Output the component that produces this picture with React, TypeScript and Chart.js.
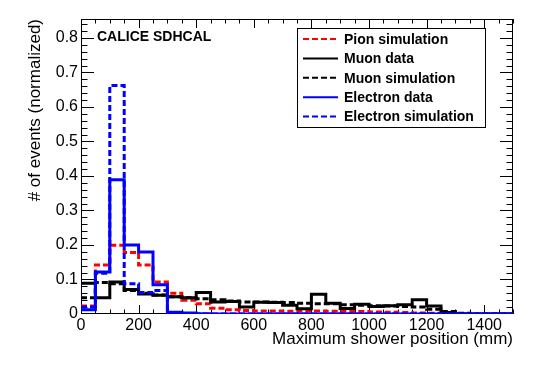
import React, { useEffect, useRef } from "react";
import { Chart, registerables } from "chart.js";

Chart.register(...registerables);

// Bin lower edges (mm), bin width 50 mm; last edge closes the histogram
const binEdges = [
  0, 50, 100, 150, 200, 250, 300, 350, 400, 450, 500, 550, 600, 650, 700,
  750, 800, 850, 900, 950, 1000, 1050, 1100, 1150, 1200, 1250, 1300, 1350, 1400, 1450, 1500,
];

const pionSim = [
  0.023, 0.142, 0.199, 0.178, 0.142, 0.093, 0.06, 0.04, 0.03, 0.017, 0.012, 0.01,
  0.009, 0.009, 0.008, 0.008, 0.009, 0.008, 0.007, 0.007, 0.006, 0.005, 0.004,
  0.003, 0.002, 0.001, 0, 0, 0, 0,
];
const muonData = [
  0.089, 0.047, 0.093, 0.071, 0.058, 0.054, 0.05, 0.047, 0.062, 0.035, 0.036, 0.02,
  0.034, 0.033, 0.025, 0.015, 0.057, 0.031, 0.016, 0.028, 0.022, 0.024, 0.027,
  0.041, 0.023, 0.004, 0, 0, 0, 0,
];
const muonSim = [
  0.047, 0.091, 0.088, 0.068, 0.06, 0.055, 0.05, 0.047, 0.044, 0.041, 0.038, 0.035,
  0.035, 0.034, 0.033, 0.031, 0.03, 0.03, 0.027, 0.025, 0.024, 0.023, 0.022,
  0.02, 0.014, 0.007, 0.002, 0, 0, 0,
];
const electronData = [
  0.012, 0.122, 0.389, 0.2, 0.18, 0.085, 0.005, 0.003, 0.001, 0, 0, 0, 0, 0, 0,
  0, 0, 0, 0, 0, 0, 0, 0, 0, 0, 0, 0, 0, 0, 0,
];
const electronSim = [
  0.02, 0.118, 0.662, 0.088, 0.062, 0.068, 0.003, 0, 0, 0, 0, 0, 0, 0, 0,
  0, 0, 0, 0, 0, 0, 0, 0, 0, 0, 0, 0, 0, 0, 0,
];

const seriesLabels = [
  "Pion simulation",
  "Muon data",
  "Muon simulation",
  "Electron data",
  "Electron simulation",
];
const xTickLabels = ["0", "200", "400", "600", "800", "1000", "1200", "1400"];
const yTickLabels = ["0", "0.1", "0.2", "0.3", "0.4", "0.5", "0.6", "0.7", "0.8"];

const FONT = "'Liberation Sans', Arial, Helvetica, sans-serif";
const DASH = [6, 3];

function toSteps(values: number[]) {
  const pts = values.map((v, i) => ({ x: binEdges[i], y: v }));
  pts.push({ x: binEdges[values.length], y: values[values.length - 1] });
  return pts;
}

const rootFrame = {
  id: "rootFrame",
  beforeDatasetsDraw(chart: any) {
    const { ctx, chartArea: a, scales } = chart;
    const xs = scales.x;
    const ys = scales.y;
    ctx.save();
    ctx.strokeStyle = "#000";
    ctx.lineWidth = 1;
    ctx.strokeRect(a.left + 0.5, a.top + 0.5, a.right - a.left - 1, a.bottom - a.top - 1);
    ctx.beginPath();
    // y ticks: major every 0.1, minor every 0.02
    for (let i = 0; i <= 42; i++) {
      const py = Math.round(ys.getPixelForValue(i * 0.02)) + 0.5;
      if (py < a.top || py > a.bottom) continue;
      const len = i % 5 === 0 ? 13 : 6.5;
      ctx.moveTo(a.left, py);
      ctx.lineTo(a.left + len, py);
      ctx.moveTo(a.right, py);
      ctx.lineTo(a.right - len, py);
    }
    // x ticks: major every 200, minor every 50
    for (let i = 0; i <= 30; i++) {
      const px = Math.round(xs.getPixelForValue(i * 50)) + 0.5;
      const len = i % 4 === 0 ? 9 : 4.5;
      ctx.moveTo(px, a.bottom);
      ctx.lineTo(px, a.bottom - len);
      ctx.moveTo(px, a.top);
      ctx.lineTo(px, a.top + len);
    }
    ctx.stroke();
    ctx.restore();
  },
  afterDraw(chart: any) {
    const { ctx } = chart;
    ctx.save();
    // Title text
    ctx.fillStyle = "#000";
    ctx.font = `bold 14px ${FONT}`;
    ctx.textBaseline = "alphabetic";
    ctx.textAlign = "left";
    ctx.fillText("CALICE SDHCAL", 97, 41);

    // Legend box
    const bx = 297, by = 28, bw = 188, bh = 99;
    ctx.fillStyle = "#fff";
    ctx.fillRect(bx, by, bw, bh);
    ctx.strokeStyle = "#000";
    ctx.lineWidth = 1;
    ctx.strokeRect(bx + 0.5, by + 0.5, bw, bh);
    const order = [0, 1, 2, 3, 4];
    order.forEach((di, row) => {
      const ds = chart.data.datasets[di];
      const y = 39 + row * 19.4;
      ctx.beginPath();
      ctx.strokeStyle = ds.borderColor;
      ctx.lineWidth = 2;
      ctx.setLineDash(ds.borderDash || []);
      ctx.moveTo(303, y);
      ctx.lineTo(338, y);
      ctx.stroke();
      ctx.setLineDash([]);
      ctx.fillStyle = "#000";
      ctx.font = `bold 14px ${FONT}`;
      ctx.textBaseline = "middle";
      ctx.fillText(ds.label, 344, y + 1);
    });
    ctx.restore();
  },
};

export default function App() {
  const ref = useRef<HTMLCanvasElement>(null);
  useEffect(() => {
    if (!ref.current) return;
    Chart.defaults.font.family = FONT;
    const common = {
      stepped: "before" as const,
      pointRadius: 0,
      pointHoverRadius: 0,
      borderWidth: 3,
      fill: false,
      tension: 0,
    };
    const chart = new Chart(ref.current, {
      type: "line",
      data: {
        datasets: [
          { ...common, label: seriesLabels[0], data: toSteps(pionSim), borderColor: "#ff0000", borderDash: DASH, order: 4 },
          { ...common, label: seriesLabels[1], data: toSteps(muonData), borderColor: "#000000", order: 2 },
          { ...common, label: seriesLabels[2], data: toSteps(muonSim), borderColor: "#000000", borderDash: DASH, order: 3 },
          { ...common, label: seriesLabels[3], data: toSteps(electronData), borderColor: "#0000ff", order: 0 },
          { ...common, label: seriesLabels[4], data: toSteps(electronSim), borderColor: "#0000ff", borderDash: DASH, order: 1 },
        ] as any,
      },
      options: {
        animation: false,
        responsive: false,
        devicePixelRatio: 1,
        events: [],
        layout: { padding: { left: 0, top: 19, right: 27, bottom: 0 } },
        plugins: { legend: { display: false }, tooltip: { enabled: false } },
        scales: {
          x: {
            type: "linear",
            min: 0,
            max: 1500,
            grid: { display: false, drawTicks: false },
            border: { display: false },
            afterFit: (s: any) => { s.height = 52; },
            ticks: {
              stepSize: 200,
              includeBounds: false,
              autoSkip: false,
              maxRotation: 0,
              padding: 2,
              color: "#000",
              font: { size: 16, family: FONT },
              callback: (v: any) => {
                const i = Math.round(Number(v) / 200);
                return xTickLabels[i] ?? "";
              },
            },
            title: {
              display: true,
              text: "Maximum shower position (mm)",
              align: "end",
              color: "#000",
              font: { size: 17, family: FONT },
              padding: { top: 0, bottom: 16 },
            },
          },
          y: {
            type: "linear",
            min: 0,
            max: 0.855,
            grid: { display: false, drawTicks: false },
            border: { display: false },
            afterFit: (s: any) => { s.width = 81; },
            ticks: {
              stepSize: 0.1,
              includeBounds: false,
              autoSkip: false,
              padding: 3,
              color: "#000",
              font: { size: 16, family: FONT },
              callback: (v: any) => {
                const i = Math.round(Number(v) / 0.1);
                return yTickLabels[i] ?? "";
              },
            },
            title: {
              display: true,
              text: "# of events (normalized)",
              align: "end",
              color: "#000",
              font: { size: 17, family: FONT },
              padding: { top: 25, bottom: 0 },
            },
          },
        },
      } as any,
      plugins: [rootFrame],
    });
    return () => chart.destroy();
  }, []);
  return (
    <div style={{ position: "absolute", left: 0, top: 0, width: 540, height: 366, background: "#fff" }}>
      <canvas ref={ref} width={540} height={366} style={{ display: "block", width: 540, height: 366 }} />
    </div>
  );
}
